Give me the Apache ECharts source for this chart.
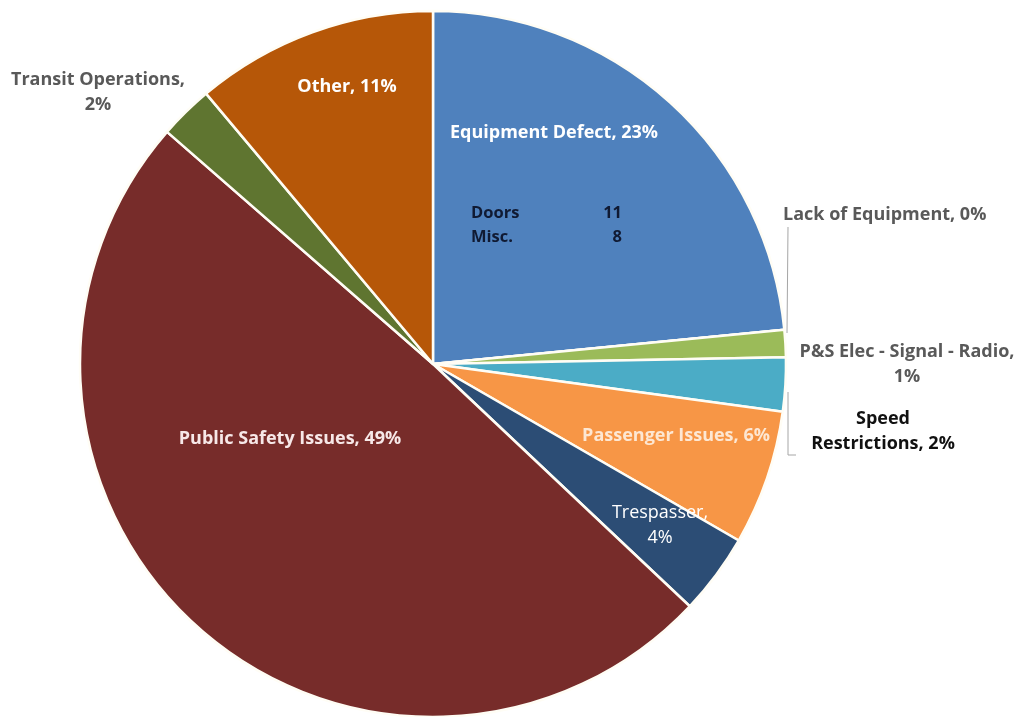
<!DOCTYPE html>
<html><head><meta charset="utf-8">
<script src="https://cdn.jsdelivr.net/npm/echarts@6/dist/echarts.min.js"></script>
<style>html,body{margin:0;padding:0;background:#fff}#c{width:1023px;height:717px}</style>
</head><body><div id="c"></div>
<script>
const categories = ['Equipment Defect','Lack of Equipment','P&S Elec - Signal - Radio','Speed Restrictions','Passenger Issues','Trespasser','Public Safety Issues','Transit Operations','Other'];
const values = [19, 0, 1, 2, 5, 3, 40, 2, 9];
const breakdownLabels = ['Doors', 'Misc.'];
const breakdownValues = [11, 8];

const colors = ['#4f81bd','#c0504d','#9bbb59','#4bacc6','#f79646','#2c4d75','#772c2a','#5f7530','#b65708'];
const total = values.reduce((a,b)=>a+b,0);
const FONT = '"Open Sans", "DejaVu Sans", sans-serif';

const labelCfg = [
  {x:554,y:133,color:'#ffffff',weight:'bold',align:'center',pos:'inside'},
  {x:783,y:215,color:'#595959',weight:'bold',align:'left',pos:'outside',line:[[787,333],[788,227]]},
  {x:907,y:364,color:'#595959',weight:'bold',align:'center',pos:'outside',brk:'name'},
  {x:883,y:431,color:'#111111',weight:'bold',align:'center',pos:'outside',brk:'first',line:[[788,392],[788,455],[796,455]]},
  {x:676,y:436,color:'#fde7d3',weight:'bold',align:'center',pos:'inside'},
  {x:660,y:525,color:'#ffffff',weight:'normal',align:'center',pos:'inside',brk:'name'},
  {x:290,y:439,color:'#f7e8e8',weight:'bold',align:'center',pos:'inside'},
  {x:98,y:92,color:'#595959',weight:'bold',align:'center',pos:'outside',brk:'name'},
  {x:347,y:87,color:'#ffffff',weight:'bold',align:'center',pos:'inside'}
];

function labelText(i){
  const pct = Math.round(values[i]/total*100) + '%';
  const name = categories[i];
  const b = labelCfg[i].brk;
  if (b === 'name') return name + ',\n' + pct;
  if (b === 'first') { const p = name.split(' '); return p[0] + '\n' + p.slice(1).join(' ') + ', ' + pct; }
  return name + ', ' + pct;
}

const data = categories.map((n,i)=>({
  name:n, value:values[i],
  itemStyle:{color:colors[i]},
  label:{show:true, position:labelCfg[i].pos, color:labelCfg[i].color, fontWeight:labelCfg[i].weight,
         align:labelCfg[i].align, formatter:()=>labelText(i)},
  labelLine:{show:!!labelCfg[i].line, lineStyle:{color:'#a6a6a6',width:1}}
}));

const chart = echarts.init(document.getElementById('c'), null, {renderer:'canvas'});
const txt = (t,x,y,al)=>({type:'text',z:100,x:x,y:y,style:{text:t,fontFamily:FONT,fontSize:16.5,fontWeight:'bold',fill:'#101a33',align:al,verticalAlign:'middle'}});
chart.setOption({
  animation:false,
  backgroundColor:'#ffffff',
  series:[{
    type:'pie',
    center:[433,364],
    radius:[0,353],
    startAngle:90,
    clockwise:true,
    avoidLabelOverlap:false,
    data:data,
    itemStyle:{borderColor:'#fffdf5',borderWidth:2.5},
    label:{fontFamily:FONT,fontSize:18,lineHeight:25},
    labelLayout:function(p){
      const c = labelCfg[p.dataIndex];
      const r = {x:c.x, y:c.y, align:c.align, verticalAlign:'middle'};
      if (c.line) r.labelLinePoints = c.line;
      return r;
    }
  }],
  graphic:[
    txt(breakdownLabels[0],471,213,'left'),
    txt(breakdownLabels[1],471,237,'left'),
    txt(String(breakdownValues[0]),622,213,'right'),
    txt(String(breakdownValues[1]),622,237,'right')
  ]
});
</script></body></html>
